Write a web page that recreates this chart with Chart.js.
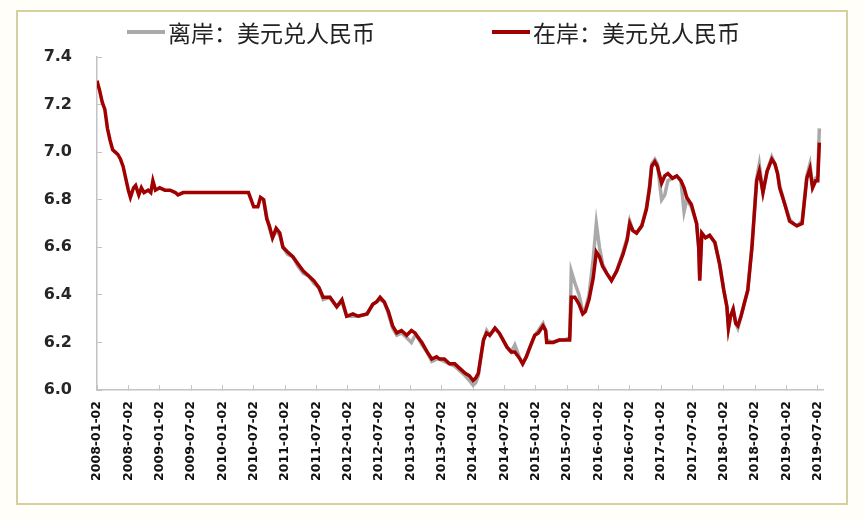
<!DOCTYPE html>
<html>
<head>
<meta charset="utf-8">
<script src="https://cdn.jsdelivr.net/npm/chart.js@4.4.1/dist/chart.umd.min.js"></script>
<style>
  html, body { margin: 0; padding: 0; background: #fffef8; }
  #wrap { position: relative; width: 865px; height: 520px; }
  #frame {
    position: absolute; left: 16px; top: 10px; width: 828px; height: 491px;
    border: 2px solid #d6cf9f; background: #ffffff;
  }
  #chart { position: absolute; left: 0; top: 0; }
  .legend-item {
    position: absolute; top: 19px; display: flex; align-items: center;
    font-family: "Noto Sans CJK SC", sans-serif; font-size: 23px; color: #222;
    line-height: 26px; white-space: nowrap;
  }
  .legend-line { display: inline-block; width: 38px; height: 4px; margin-right: 3px; }
</style>
</head>
<body>
<div id="wrap">
  <div id="frame"></div>
  <canvas id="chart" width="865" height="520"></canvas>
  <div id="legend"></div>
</div>
<script>
// x values: months counted from 2008-01
const months = [
  0, 0.5, 1, 1.5, 2, 2.5, 3, 3.5, 4, 4.5,
  5, 5.5, 6, 6.4, 7, 7.4, 8, 8.5, 9, 9.8,
  10.3, 10.7, 11.2, 12, 13, 14, 15, 15.5, 16.5, 18,
  20, 22, 24, 26, 28, 29, 29.5, 30, 30.8, 31.3,
  31.9, 32.5, 33, 33.6, 34.3, 35, 35.6, 36.5, 37.5, 38.5,
  39.5, 40.5, 41.5, 42.5, 43.3, 44.6, 45.9, 46.9, 47.8, 49,
  50, 51.7, 52.8, 53.5, 54.2, 55, 55.8, 56.6, 57.4, 58.3,
  59.3, 60.2, 60.9, 61.5, 62.2, 63.2, 64.1, 65, 65.6, 66.5,
  67.5, 68.5, 69.5, 70.5, 71.3, 72, 72.5, 73, 73.5, 74,
  74.6, 75.2, 76.2, 77, 77.5, 78.5, 79.3, 80, 81, 81.5,
  82.2, 82.9, 83.8, 84.5, 85.4, 85.9, 86.1, 87.3, 88.5, 89.5,
  90.5, 90.8, 91.5, 92.3, 93, 93.5, 94.2, 95, 95.6, 96.2,
  96.8, 97.6, 98.5, 99.5, 100.7, 101.5, 102, 102.6, 103.3, 104.3,
  105.2, 105.8, 106.2, 106.8, 107.3, 108.1, 108.7, 109.3, 110.2, 111,
  111.8, 112.4, 112.9, 113.8, 114.8, 115.2, 115.4, 115.8, 116.5, 117.3,
  118.3, 119.2, 120, 120.6, 120.9, 121.3, 121.8, 122.3, 122.7, 123.3,
  124, 124.6, 125.4, 126.3, 126.8, 127.5, 128.3, 129.2, 129.8, 130.3,
  130.7, 131.7, 132.6, 133.3, 134, 135, 135.9, 136.5, 137, 137.6,
  138, 138.3
];

// 在岸 (onshore CNY)
const onshore = [
  7.30, 7.26, 7.21, 7.18, 7.10, 7.05, 7.01, 7.00, 6.99, 6.97,
  6.94, 6.89, 6.84, 6.81, 6.85, 6.86, 6.82, 6.85, 6.83, 6.84,
  6.83, 6.88, 6.84, 6.85, 6.84, 6.84, 6.83, 6.82, 6.83, 6.83,
  6.83, 6.83, 6.83, 6.83, 6.83, 6.83, 6.80, 6.77, 6.77, 6.81,
  6.80, 6.72, 6.69, 6.64, 6.68, 6.66, 6.60, 6.58, 6.56, 6.53,
  6.50, 6.48, 6.46, 6.43, 6.39, 6.39, 6.35, 6.38, 6.31, 6.32,
  6.31, 6.32, 6.36, 6.37, 6.39, 6.37, 6.33, 6.27, 6.24, 6.25,
  6.23, 6.25, 6.24, 6.22, 6.20, 6.16, 6.13, 6.14, 6.13, 6.13,
  6.11, 6.11, 6.09, 6.07, 6.06, 6.04, 6.05, 6.07, 6.14, 6.21,
  6.24, 6.23, 6.26, 6.24, 6.22, 6.18, 6.16, 6.16, 6.13, 6.11,
  6.14, 6.18, 6.23, 6.24, 6.27, 6.25, 6.20, 6.20, 6.21, 6.21,
  6.21, 6.39, 6.39, 6.36, 6.32, 6.33, 6.38, 6.47, 6.58, 6.56,
  6.52, 6.49, 6.46, 6.50, 6.57, 6.63, 6.70, 6.67, 6.66, 6.69,
  6.76, 6.85, 6.94, 6.96, 6.94, 6.87, 6.90, 6.91, 6.89, 6.90,
  6.88, 6.85, 6.81, 6.78, 6.70, 6.60, 6.46, 6.66, 6.64, 6.65,
  6.62, 6.53, 6.42, 6.35, 6.26, 6.31, 6.34, 6.28, 6.27, 6.31,
  6.37, 6.42, 6.60, 6.88, 6.92, 6.83, 6.92, 6.97, 6.95, 6.91,
  6.85, 6.78, 6.71, 6.70, 6.69, 6.70, 6.89, 6.93, 6.85, 6.88,
  6.88, 7.04
];

// 离岸 (offshore CNH), no quotes before late 2010
const offshore = [
  null, null, null, null, null, null, null, null, null, null,
  null, null, null, null, null, null, null, null, null, null,
  null, null, null, null, null, null, null, null, null, null,
  null, null, null, null, null, null, null, null, null, 6.81,
  6.80, 6.73, 6.68, 6.64, 6.67, 6.65, 6.60, 6.57, 6.56, 6.52,
  6.49, 6.48, 6.45, 6.43, 6.38, 6.39, 6.35, 6.37, 6.31, 6.31,
  6.31, 6.32, 6.36, 6.37, 6.38, 6.37, 6.32, 6.26, 6.23, 6.24,
  6.22, 6.20, 6.23, 6.22, 6.19, 6.16, 6.12, 6.13, 6.13, 6.12,
  6.11, 6.10, 6.08, 6.06, 6.04, 6.02, 6.03, 6.06, 6.14, 6.21,
  6.25, 6.23, 6.26, 6.24, 6.22, 6.18, 6.16, 6.19, 6.13, 6.11,
  6.14, 6.18, 6.23, 6.25, 6.28, 6.25, 6.21, 6.20, 6.21, 6.21,
  6.22, 6.50, 6.45, 6.40, 6.33, 6.34, 6.40, 6.55, 6.70, 6.60,
  6.53, 6.49, 6.46, 6.50, 6.58, 6.64, 6.71, 6.67, 6.66, 6.69,
  6.77, 6.86, 6.95, 6.97, 6.95, 6.80, 6.82, 6.88, 6.89, 6.90,
  6.88, 6.75, 6.80, 6.77, 6.70, 6.60, 6.47, 6.66, 6.64, 6.65,
  6.62, 6.53, 6.42, 6.35, 6.26, 6.31, 6.34, 6.28, 6.26, 6.31,
  6.37, 6.42, 6.61, 6.89, 6.95, 6.83, 6.92, 6.98, 6.95, 6.91,
  6.86, 6.78, 6.72, 6.70, 6.69, 6.71, 6.90, 6.95, 6.86, 6.89,
  6.90, 7.10
];

const tickLabels = [
  '2008-01-02', '2008-07-02', '2009-01-02', '2009-07-02', '2010-01-02', '2010-07-02',
  '2011-01-02', '2011-07-02', '2012-01-02', '2012-07-02', '2013-01-02', '2013-07-02',
  '2014-01-02', '2014-07-02', '2015-01-02', '2015-07-02', '2016-01-02', '2016-07-02',
  '2017-01-02', '2017-07-02', '2018-01-02', '2018-07-02', '2019-01-02', '2019-07-02'
];

const seriesNames = ['离岸：美元兑人民币', '在岸：美元兑人民币'];
const seriesColors = ['#a9a9a9', '#a00000'];

const toPoints = (vals) => months.map((m, i) => ({ x: m, y: vals[i] }));

const axisGray = '#c3c3c3';

const chart = new Chart(document.getElementById('chart'), {
  type: 'line',
  data: {
    datasets: [
      {
        label: seriesNames[0],
        data: toPoints(offshore),
        borderColor: seriesColors[0],
        borderWidth: 3.5,
        pointRadius: 0,
        tension: 0,
        order: 1
      },
      {
        label: seriesNames[1],
        data: toPoints(onshore),
        borderColor: seriesColors[1],
        borderWidth: 3.5,
        pointRadius: 0,
        tension: 0,
        order: 0
      }
    ]
  },
  options: {
    responsive: false,
    animation: false,
    layout: { padding: { left: 0, right: 42, top: 57, bottom: 30 } },
    plugins: {
      legend: { display: false },
      tooltip: { enabled: false }
    },
    scales: {
      x: {
        type: 'linear',
        min: 0,
        max: 139,
        afterBuildTicks: (axis) => {
          axis.ticks = axis.ticks.filter(t => t.value % 6 === 0);
        },
        afterFit: (scale) => { scale.height = 100; },
        ticks: {
          stepSize: 6,
          includeBounds: false,
          autoSkip: false,
          minRotation: 90,
          maxRotation: 90,
          padding: 16,
          color: '#111111',
          font: { family: 'DejaVu Sans', weight: 'bold', size: 12.5 },
          callback: (v) => tickLabels[v / 6] || ''
        },
        // negative tick length puts the marks inside the plot
        grid: { drawOnChartArea: false, drawTicks: true, tickLength: -5, color: axisGray },
        border: { color: axisGray, width: 1.5 }
      },
      y: {
        min: 6.0,
        max: 7.4,
        afterFit: (scale) => { scale.width = 97; },
        ticks: {
          stepSize: 0.2,
          padding: 30,
          color: '#262626',
          font: { family: 'DejaVu Sans', weight: 'bold', size: 16 },
          callback: (v) => v.toFixed(1)
        },
        grid: { drawOnChartArea: false, drawTicks: true, tickLength: -5, color: axisGray },
        border: { color: axisGray, width: 1.5 }
      }
    }
  }
});

// HTML legend built from the chart's datasets
const legendLeft = [127, 492];
const legendEl = document.getElementById('legend');
chart.data.datasets.forEach((ds, i) => {
  const item = document.createElement('div');
  item.className = 'legend-item';
  item.style.left = legendLeft[i] + 'px';
  const line = document.createElement('span');
  line.className = 'legend-line';
  line.style.background = ds.borderColor;
  const text = document.createElement('span');
  text.textContent = ds.label;
  item.appendChild(line);
  item.appendChild(text);
  legendEl.appendChild(item);
});
</script>
</body>
</html>
